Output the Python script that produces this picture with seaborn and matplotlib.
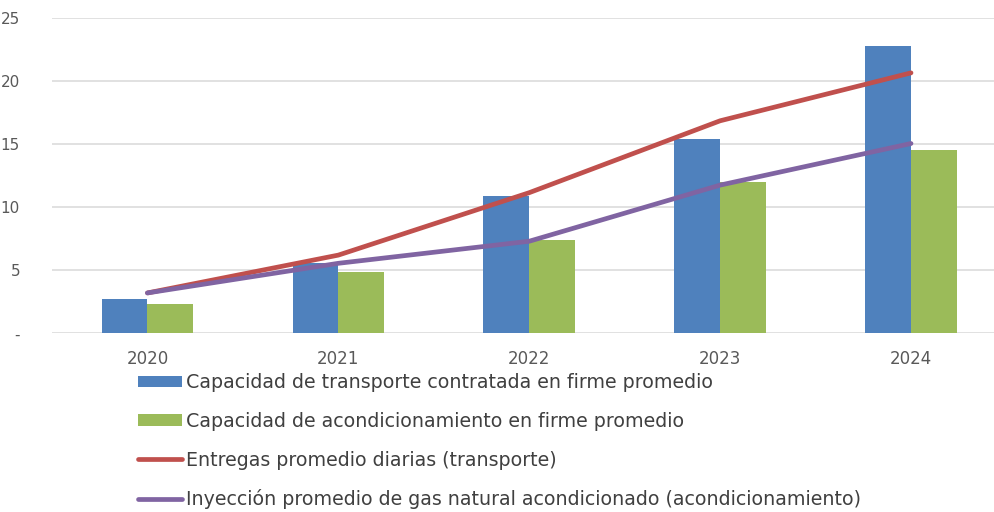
import numpy as np
import pandas as pd
import matplotlib
matplotlib.use("Agg")
import matplotlib.pyplot as plt
import seaborn as sns
from matplotlib.patches import Patch
from matplotlib.lines import Line2D

# datos
anos = ["2020", "2021", "2022", "2023", "2024"]
cap_transporte = [2.7, 5.55, 10.85, 15.4, 22.8]
cap_acondicionamiento = [2.35, 4.85, 7.4, 12.0, 14.5]
entregas_transporte = [3.2, 6.2, 11.15, 16.85, 20.65]
inyeccion_acond = [3.2, 5.55, 7.3, 11.75, 15.05]

nombres = [
    "Capacidad de transporte contratada en firme promedio",
    "Capacidad de acondicionamiento en firme promedio",
    "Entregas promedio diarias (transporte)",
    "Inyección promedio de gas natural acondicionado (acondicionamiento)",
]
y_ticks = [0, 5, 10, 15, 20, 25]
y_labels = ["-", "5", "10", "15", "20", "25"]

colores = ["#4F81BD", "#9BBB59", "#C0504D", "#8064A2"]

sns.set_style("white")
plt.rcParams["font.family"] = ["DejaVu Sans"]

df_barras = pd.DataFrame({
    "Año": anos * 2,
    "Valor": cap_transporte + cap_acondicionamiento,
    "Serie": [nombres[0]] * len(anos) + [nombres[1]] * len(anos),
})
df_lineas = pd.DataFrame({
    "pos": list(np.arange(len(anos))) * 2,
    "Valor": entregas_transporte + inyeccion_acond,
    "Serie": [nombres[2]] * len(anos) + [nombres[3]] * len(anos),
})

fig = plt.figure(figsize=(9.95, 5.12), dpi=100)
ax = fig.add_axes([52 / 995, 1 - 333.3 / 512, (995 - 52) / 995, (333.3 - 18) / 512])

# grilla detras
for t in y_ticks:
    ax.axhline(t, color="#D9D9D9", linewidth=1.1, zorder=0)

sns.barplot(data=df_barras, x="Año", y="Valor", hue="Serie",
            palette=colores[:2], width=0.48, saturation=1, linewidth=0,
            ax=ax, zorder=2, legend=False)
sns.lineplot(data=df_lineas, x="pos", y="Valor", hue="Serie",
             palette=colores[2:], linewidth=3.4, ax=ax, zorder=3,
             legend=False, solid_capstyle="round")

ax.set_xlim(-0.5, 4.44)
ax.set_ylim(0, 25)
ax.set_yticks(y_ticks)
ax.set_yticklabels(y_labels)
ax.set_xticks(range(len(anos)))
ax.set_xticklabels(anos)
ax.set_xlabel("")
ax.set_ylabel("")
for s in ax.spines.values():
    s.set_visible(False)
ax.tick_params(axis="y", length=0, pad=23, labelsize=11, labelcolor="#595959")
ax.tick_params(axis="x", length=0, pad=12, labelsize=12, labelcolor="#595959")

# leyenda debajo
handles = [
    Patch(facecolor=colores[0], linewidth=0),
    Patch(facecolor=colores[1], linewidth=0),
    Line2D([], [], color=colores[2], linewidth=3.4, solid_capstyle="round"),
    Line2D([], [], color=colores[3], linewidth=3.4, solid_capstyle="round"),
]
fig.legend(handles, nombres, loc="upper left",
           bbox_to_anchor=(138 / 995, 1 - 373 / 512), frameon=False,
           fontsize=13.7, labelcolor="#404040", handlelength=2.3,
           handleheight=0.55, handletextpad=0.2, labelspacing=1.04,
           borderpad=0, borderaxespad=0)

fig.savefig("out.png", dpi=100)
